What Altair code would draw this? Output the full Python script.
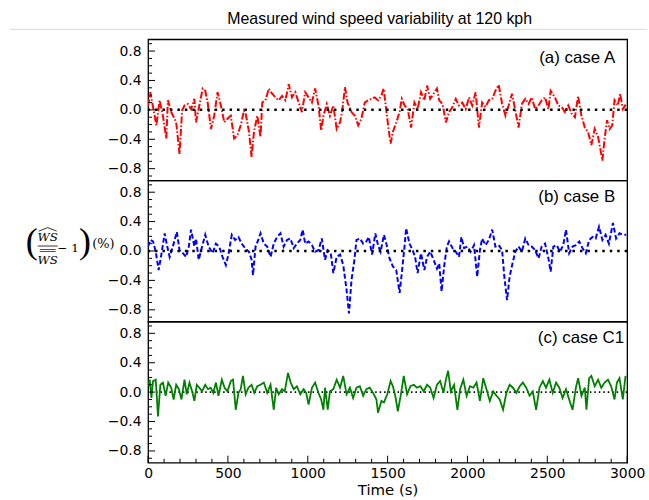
import altair as alt
import pandas as pd

# ---------------- data ----------------
case_a_time = [0, 14, 52, 72, 93, 114, 124, 145, 166, 176,
               197, 213, 228, 249, 269, 290, 300, 321, 342, 358,
               373, 394, 414, 435, 456, 477, 497, 518, 539, 559,
               580, 601, 611, 632, 648, 663, 684, 704, 715, 735,
               756, 777, 798, 818, 839, 860, 881, 901, 922, 943,
               963, 984, 1005, 1026, 1046, 1067, 1084, 1098, 1119, 1139,
               1160, 1181, 1202, 1216, 1233, 1249, 1274, 1295, 1316, 1336,
               1357, 1378, 1398, 1419, 1440, 1461, 1475, 1492, 1506, 1519,
               1533, 1554, 1575, 1589, 1606, 1626, 1647, 1668, 1688, 1709,
               1730, 1747, 1767, 1788, 1809, 1823, 1844, 1865, 1885, 1906,
               1927, 1947, 1968, 1989, 2010, 2030, 2051, 2072, 2092, 2113,
               2134, 2155, 2175, 2196, 2217, 2238, 2258, 2279, 2300, 2320,
               2341, 2362, 2383, 2403, 2424, 2445, 2465, 2486, 2507, 2521,
               2548, 2569, 2590, 2610, 2631, 2652, 2673, 2693, 2714, 2735,
               2755, 2776, 2797, 2818, 2832, 2845, 2859, 2874, 2890, 2907,
               2921, 2942, 2956, 2973, 2994]
case_a_value = [0.05, 0.24, -0.21, 0.13, -0.08, -0.39, 0.13, -0.03, -0.12, -0.17,
                -0.60, -0.01, 0.06, 0.08, 0.01, 0.15, -0.17, 0.06, 0.29, 0.26,
                0.10, -0.26, -0.08, 0.24, 0.06, -0.17, -0.12, -0.08, -0.39, -0.35,
                -0.21, -0.01, -0.05, -0.30, -0.64, -0.30, -0.08, -0.37, 0.10, 0.13,
                0.29, 0.22, 0.17, 0.13, 0.19, 0.13, 0.35, 0.17, 0.24, 0.10,
                -0.03, 0.24, 0.17, 0.10, 0.29, 0.06, -0.28, -0.08, 0.08, -0.08,
                0.06, -0.26, -0.17, -0.01, 0.31, 0.10, -0.03, -0.08, -0.21, -0.12,
                0.10, 0.13, 0.15, 0.17, 0.13, 0.19, 0.29, -0.01, -0.26, -0.46,
                -0.30, -0.17, -0.03, 0.15, 0.06, 0.01, -0.24, 0.10, 0.01, 0.24,
                0.13, 0.33, 0.15, 0.22, 0.29, 0.13, 0.08, -0.17, -0.03, 0.04,
                0.15, 0.06, 0.10, 0.01, 0.17, 0.06, 0.24, -0.24, 0.10, 0.04,
                0.13, 0.15, 0.26, 0.34, 0.08, -0.08, 0.06, 0.22, -0.01, -0.24,
                0.08, 0.15, 0.08, 0.17, 0.01, 0.06, 0.13, 0.17, 0.01, 0.26,
                0.17, 0.06, 0.04, -0.03, 0.06, -0.05, -0.10, 0.19, -0.08, -0.24,
                -0.30, -0.48, -0.26, -0.37, -0.53, -0.69, -0.39, -0.14, -0.26, -0.21,
                0.13, 0.06, 0.22, 0.01, 0.08]

case_b_time = [0, 14, 31, 48, 66, 83, 104, 118, 135, 155,
               180, 197, 218, 238, 255, 269, 290, 300, 317, 332,
               358, 379, 404, 425, 445, 466, 487, 503, 524, 545,
               566, 586, 607, 632, 648, 657, 673, 690, 704, 725,
               746, 767, 787, 808, 829, 849, 870, 891, 912, 932,
               953, 968, 984, 1005, 1026, 1046, 1067, 1088, 1108, 1125,
               1144, 1160, 1181, 1202, 1222, 1243, 1258, 1274, 1291, 1305,
               1326, 1347, 1367, 1382, 1403, 1423, 1440, 1456, 1477, 1492,
               1512, 1533, 1554, 1575, 1589, 1606, 1616, 1637, 1657, 1672,
               1688, 1709, 1730, 1747, 1767, 1788, 1809, 1823, 1838, 1854,
               1871, 1885, 1906, 1927, 1947, 1962, 1979, 1999, 2020, 2041,
               2061, 2078, 2092, 2113, 2134, 2155, 2175, 2196, 2217, 2231,
               2248, 2264, 2285, 2300, 2320, 2341, 2362, 2383, 2403, 2424,
               2445, 2465, 2486, 2507, 2521, 2538, 2559, 2579, 2600, 2617,
               2637, 2658, 2679, 2700, 2720, 2741, 2762, 2783, 2803, 2824,
               2845, 2865, 2886, 2911, 2931, 2952, 2973, 2994]
case_b_value = [0.06, 0.15, 0.13, -0.01, -0.26, -0.05, 0.24, 0.08, -0.08, 0.06,
                0.26, 0.01, -0.03, -0.08, 0.06, 0.29, 0.06, 0.17, -0.12, 0.01,
                0.22, 0.06, -0.03, 0.10, 0.06, -0.08, -0.19, -0.05, 0.22, 0.15,
                0.19, 0.10, 0.04, -0.01, -0.12, -0.33, 0.06, 0.15, 0.24, 0.10,
                0.06, -0.08, 0.10, 0.19, 0.24, 0.06, 0.15, 0.17, 0.04, 0.10,
                0.15, 0.29, 0.10, 0.13, 0.08, -0.01, 0.01, 0.17, -0.12, 0.01,
                -0.03, -0.30, -0.08, -0.05, -0.19, -0.53, -0.85, -0.39, -0.14, 0.15,
                0.17, 0.10, 0.13, 0.19, -0.05, 0.24, 0.08, -0.01, 0.22, 0.10,
                -0.10, -0.21, -0.26, -0.57, -0.30, 0.06, 0.31, 0.10, 0.01, -0.08,
                -0.30, -0.03, -0.26, -0.08, -0.01, -0.12, -0.24, -0.17, -0.55, -0.21,
                0.06, 0.13, 0.04, -0.01, -0.08, 0.19, 0.04, 0.06, -0.01, 0.08,
                -0.35, 0.01, 0.17, 0.08, 0.15, 0.29, 0.06, 0.08, 0.01, -0.35,
                -0.67, -0.35, -0.14, -0.01, 0.06, -0.01, 0.17, 0.08, 0.06, 0.01,
                -0.10, 0.06, 0.10, -0.10, -0.28, 0.06, 0.08, -0.01, 0.08, 0.29,
                -0.03, 0.06, 0.08, 0.13, 0.04, -0.03, 0.15, 0.19, 0.17, 0.33,
                0.15, 0.22, 0.10, 0.38, 0.17, 0.24, 0.22, 0.22]

case_c_time = [0, 10, 21, 31, 48, 62, 77, 93, 110, 126,
               145, 160, 176, 193, 209, 228, 242, 259, 276, 290,
               305, 321, 338, 358, 375, 392, 408, 425, 441, 462,
               479, 497, 518, 532, 549, 566, 580, 594, 611, 628,
               648, 665, 684, 704, 725, 746, 767, 787, 802, 818,
               839, 856, 876, 893, 912, 932, 953, 974, 990, 1005,
               1026, 1046, 1067, 1084, 1098, 1108, 1125, 1139, 1160, 1181,
               1202, 1222, 1243, 1264, 1284, 1305, 1326, 1347, 1367, 1388,
               1409, 1430, 1440, 1461, 1477, 1498, 1519, 1533, 1548, 1564,
               1585, 1601, 1622, 1643, 1664, 1684, 1705, 1726, 1747, 1767,
               1788, 1809, 1829, 1850, 1865, 1879, 1896, 1916, 1937, 1954,
               1974, 1995, 2016, 2037, 2057, 2078, 2099, 2119, 2140, 2161,
               2182, 2202, 2223, 2244, 2264, 2285, 2306, 2327, 2347, 2368,
               2389, 2409, 2430, 2451, 2472, 2492, 2513, 2534, 2555, 2575,
               2596, 2617, 2637, 2658, 2679, 2693, 2714, 2735, 2745, 2762,
               2776, 2797, 2818, 2838, 2859, 2880, 2900, 2921, 2936, 2952,
               2973, 2990]
case_c_value = [0.08, 0.17, -0.08, 0.15, 0.17, -0.33, 0.10, 0.13, -0.05, 0.13,
                0.06, -0.10, 0.10, 0.04, -0.10, 0.17, -0.03, 0.13, 0.01, -0.12,
                0.10, 0.06, 0.01, 0.10, 0.04, 0.06, -0.01, 0.13, -0.05, 0.17,
                0.06, 0.01, 0.15, 0.17, -0.24, -0.01, 0.04, 0.22, -0.03, 0.06,
                0.10, -0.01, 0.08, 0.10, 0.13, -0.01, 0.10, -0.24, 0.06, -0.03,
                0.04, 0.01, 0.26, 0.13, 0.04, 0.08, -0.03, 0.04, -0.01, -0.17,
                0.06, 0.13, -0.01, -0.10, -0.24, 0.06, -0.24, 0.01, 0.04, 0.17,
                0.06, 0.22, -0.03, 0.06, -0.08, 0.06, 0.08, -0.05, 0.04, 0.06,
                -0.01, -0.10, -0.28, -0.12, -0.14, -0.03, 0.15, 0.08, -0.05, -0.26,
                -0.01, 0.22, -0.03, 0.08, 0.10, 0.06, 0.08, 0.01, 0.10, 0.06,
                -0.08, 0.10, 0.15, -0.01, 0.17, 0.29, 0.01, 0.10, -0.24, 0.04,
                0.17, -0.05, 0.08, 0.06, 0.13, -0.12, 0.19, 0.04, -0.12, 0.01,
                -0.05, -0.10, -0.24, -0.01, 0.10, 0.06, -0.01, 0.08, 0.13, 0.06,
                -0.05, 0.01, -0.24, 0.06, 0.15, 0.06, 0.17, -0.01, 0.13, 0.06,
                -0.08, 0.04, -0.10, -0.24, 0.06, 0.19, -0.05, 0.06, -0.24, 0.19,
                0.22, 0.08, 0.17, 0.06, 0.13, 0.17, 0.08, -0.10, 0.13, 0.19,
                -0.10, 0.22]

panel_labels = ["(a) case A", "(b) case B", "(c) case C1"]
title_text = "Measured wind speed variability at 120 kph"
x_title = "Time (s)"
y_major = [-0.8, -0.4, 0.0, 0.4, 0.8]
y_minor = [-0.9, -0.7, -0.6, -0.5, -0.3, -0.2, -0.1, 0.1, 0.2, 0.3, 0.5, 0.6, 0.7, 0.9]
x_major = [0, 500, 1000, 1500, 2000, 2500, 3000]
x_minor = [t for t in range(100, 3000, 100) if t % 500 != 0]

# ---------------- layout constants ----------------
W, H = 482, 142
one = pd.DataFrame({"k": [0]})
yscale = alt.Scale(domain=[-0.96, 0.96], nice=False, zero=False)
xscale = alt.Scale(domain=[0, 3000], nice=False, zero=False)
yaxis = alt.Axis(values=y_major, format=".1f", labelFont="DejaVu Sans", labelFontSize=14,
                 labelColor="black", ticks=False, tickSize=0, labelPadding=7,
                 domain=False, grid=False, title=None)
xaxis_full = alt.Axis(values=x_major, format="d", labelFont="DejaVu Sans", labelFontSize=14,
                      labelColor="black", ticks=False, tickSize=0, labelPadding=4,
                      domain=False, grid=False, title=x_title, titleFont="DejaVu Sans",
                      titleFontSize=15, titleFontWeight="normal", titleColor="black",
                      titlePadding=2, labelFlush=False)


def txt(s, x, y, size, font="DejaVu Serif", style="normal", align="center", weight="normal"):
    return alt.Chart(one).mark_text(text=s, fontSize=size, font=font, fontStyle=style,
                                    fontWeight=weight, align=align, baseline="middle",
                                    color="black").encode(x=alt.value(x), y=alt.value(y))


def seg(x1, y1, x2, y2, color="black", sw=0.8):
    return alt.Chart(one).mark_rule(color=color, strokeWidth=sw).encode(
        x=alt.value(x1), x2=alt.value(x2), y=alt.value(y1), y2=alt.value(y2))


def panel(times, values, color, dash, lw, label, lab_x, lab_y, zero_top, zero_style,
          bottom=False, extras=()):
    df = pd.DataFrame({"t": times, "v": values})
    xaxis = xaxis_full if bottom else None
    line = alt.Chart(df).mark_line(color=color, strokeWidth=lw, clip=True,
                                   **({"strokeDash": dash} if dash else {})).encode(
        x=alt.X("t:Q", scale=xscale, axis=xaxis),
        y=alt.Y("v:Q", scale=yscale, axis=yaxis))
    zero = alt.Chart(pd.DataFrame({"z": [0.0]})).mark_rule(
        color="black", strokeWidth=zero_style[0], strokeDash=zero_style[1]).encode(
        y=alt.Y("z:Q", scale=yscale, axis=yaxis))
    ymaj = alt.Chart(pd.DataFrame({"v": y_major})).mark_rule(color="black", strokeWidth=1).encode(
        y=alt.Y("v:Q", scale=yscale, axis=yaxis), x=alt.value(0), x2=alt.value(7))
    ymin = alt.Chart(pd.DataFrame({"v": y_minor})).mark_rule(color="black", strokeWidth=1).encode(
        y=alt.Y("v:Q", scale=yscale, axis=yaxis), x=alt.value(0), x2=alt.value(4))
    lab = txt(label, lab_x, lab_y, 17, font="Liberation Sans", align="right")
    layers = [zero, line] if not zero_top else [line, zero]
    layers += [ymaj, ymin, lab]
    if bottom:
        xmaj = alt.Chart(pd.DataFrame({"t": x_major})).mark_rule(color="black", strokeWidth=1).encode(
            x=alt.X("t:Q", scale=xscale, axis=xaxis), y=alt.value(H), y2=alt.value(H - 7))
        xmin = alt.Chart(pd.DataFrame({"t": x_minor})).mark_rule(color="black", strokeWidth=1).encode(
            x=alt.X("t:Q", scale=xscale, axis=xaxis), y=alt.value(H), y2=alt.value(H - 4))
        layers += [xmaj, xmin]
    layers += list(extras)
    return alt.layer(*layers).properties(width=W, height=H)


top_extras = [
    seg(-139, -36, 502, -36, color="white", sw=1),
    seg(-139, -10, 502, -10, color="#d9d9d9", sw=1),
    txt(title_text, 233, -20, 16, font="Liberation Sans"),
]

ylab_extras = [
    txt("(", -117, 62, 36, font="Liberation Serif"),
    txt("WS", -101, 57, 12, style="italic"),
    seg(-110, 51, -101, 47.5, sw=0.8),
    seg(-101, 47.5, -92, 51, sw=0.8),
    seg(-111, 66, -91, 66, sw=0.8),
    seg(-109, 69.5, -93, 69.5, sw=0.7),
    seg(-109, 71.5, -93, 71.5, sw=0.7),
    txt("WS", -101, 80, 12, style="italic"),
    txt("− 1", -80.5, 68, 12),
    txt(")", -63.5, 62, 36, font="Liberation Serif"),
    txt("(%)", -45, 64, 13),
]

pa = panel(case_a_time, case_a_value, "#ff0000", [7, 2, 1.5, 2], 2.0, panel_labels[0], 470, 19,
           True, (2.5, [2.5, 5]), extras=top_extras)
pb = panel(case_b_time, case_b_value, "#0000ff", [5, 2.5], 2.0, panel_labels[1], 470, 17,
           True, (2.5, [2.5, 5]), extras=ylab_extras)
pc = panel(case_c_time, case_c_value, "#008000", None, 1.8, panel_labels[2], 479, 17,
           False, (1.6, [1.5, 3]), bottom=True)

chart = alt.vconcat(pa, pb, pc, spacing=0, bounds="flush").properties(
    padding={"left": 8, "top": 0, "right": 0, "bottom": 0}, background="white"
).configure_view(stroke="black", strokeWidth=1.3)

chart.save("out.html", embed_options={"renderer": "svg", "actions": False})
